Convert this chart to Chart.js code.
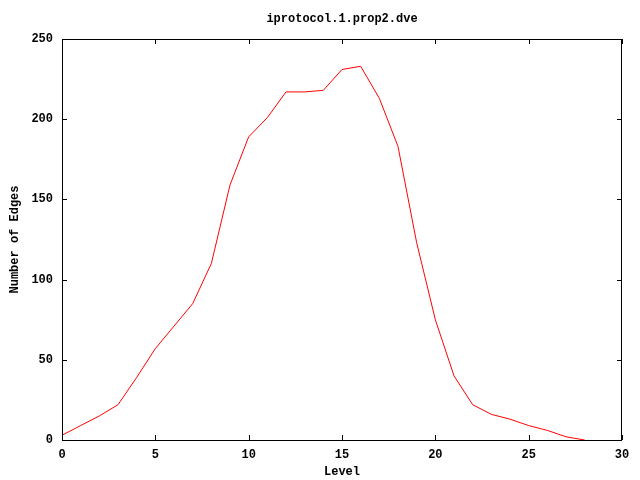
<!DOCTYPE html>
<html>
<head>
<meta charset="utf-8">
<script src="https://cdn.jsdelivr.net/npm/chart.js@4/dist/chart.umd.min.js"></script>
<style>
  html, body { margin: 0; padding: 0; background: #fff; }
  #wrap { width: 640px; height: 480px; }
</style>
</head>
<body>
<div id="wrap"><canvas id="edgesChart" width="640" height="480"></canvas></div>
<script>
// values
const levels = [0, 1, 2, 3, 4, 5, 6, 7, 8, 9, 10, 11, 12, 13, 14, 15, 16, 17, 18, 19, 20, 21, 22, 23, 24, 25, 26, 27, 28];
const edges  = [3, 9, 15, 22, 39, 57, 71, 85, 110, 159, 189, 201, 217, 217, 218, 231, 233, 213, 183, 123, 75, 40, 22, 16, 13, 9, 6, 2, 0];

const titleText = 'iprotocol.1.prop2.dve';
const xLabel = 'Level';
const yLabel = 'Number of Edges';

const monoFont = { family: '"Liberation Mono", "DejaVu Sans Mono", monospace', size: 12, weight: 'bold' };

// gnuplot style frame: box around plot with inward ticks on all four sides
const framePlugin = {
  id: 'frame',
  afterDraw(chart) {
    const ctx = chart.ctx;
    const area = chart.chartArea;
    const xs = chart.scales.x;
    const ys = chart.scales.y;
    ctx.save();
    ctx.strokeStyle = '#000';
    ctx.lineWidth = 1;
    ctx.strokeRect(area.left + 0.5, area.top + 0.5, area.right - area.left - 1, area.bottom - area.top);
    ctx.beginPath();
    xs.ticks.forEach(t => {
      const px = Math.round(xs.getPixelForValue(t.value)) + 0.5;
      ctx.moveTo(px, area.bottom); ctx.lineTo(px, area.bottom - 5);
      ctx.moveTo(px, area.top); ctx.lineTo(px, area.top + 5);
    });
    ys.ticks.forEach(t => {
      const py = Math.round(ys.getPixelForValue(t.value)) + 0.5;
      ctx.moveTo(area.left, py); ctx.lineTo(area.left + 5, py);
      ctx.moveTo(area.right, py); ctx.lineTo(area.right - 5, py);
    });
    ctx.stroke();
    // title
    ctx.fillStyle = '#000';
    ctx.font = 'bold 12px "Liberation Mono", "DejaVu Sans Mono", monospace';
    ctx.textAlign = 'center';
    ctx.textBaseline = 'middle';
    ctx.fillText(titleText, (area.left + area.right) / 2, 19);
    ctx.restore();
  }
};

const ctx = document.getElementById('edgesChart').getContext('2d');
new Chart(ctx, {
  type: 'line',
  data: {
    labels: levels,
    datasets: [{
      data: levels.map((l, i) => ({ x: l, y: edges[i] })),
      borderColor: '#ff0000',
      borderWidth: 1,
      pointRadius: 0,
      fill: false,
      tension: 0
    }]
  },
  options: {
    responsive: false,
    animation: false,
    layout: { padding: { top: 39, right: 18, left: 0, bottom: 0 } },
    plugins: {
      legend: { display: false },
      tooltip: { enabled: false }
    },
    scales: {
      x: {
        type: 'linear',
        min: 0,
        max: 30,
        grid: { display: false, drawTicks: false },
        border: { display: false },
        ticks: { stepSize: 5, color: '#000', font: monoFont, padding: 8, maxRotation: 0 },
        title: { display: true, text: xLabel, color: '#000', font: monoFont, padding: { top: 0, bottom: 1 } },
        afterFit(scale) { scale.height = 40; }
      },
      y: {
        type: 'linear',
        min: 0,
        max: 250,
        grid: { display: false, drawTicks: false },
        border: { display: false },
        ticks: { stepSize: 50, color: '#000', font: monoFont, padding: 9 },
        title: { display: true, text: yLabel, color: '#000', font: monoFont, padding: { top: 8, bottom: 0 } },
        afterFit(scale) { scale.width = 62; }
      }
    }
  },
  plugins: [framePlugin]
});
</script>
</body>
</html>
